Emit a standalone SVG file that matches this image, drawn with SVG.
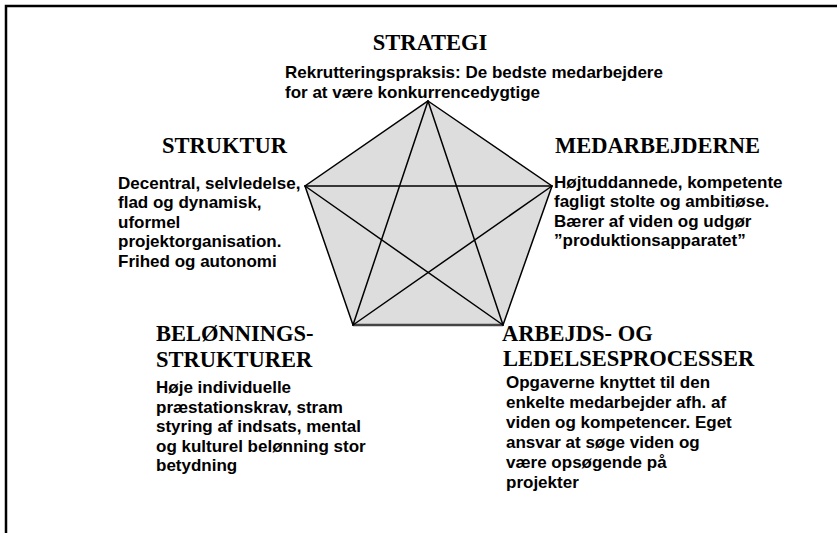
<svg xmlns="http://www.w3.org/2000/svg" width="837" height="533" viewBox="0 0 837 533">
<style>
.h{font-family:"Liberation Serif","Times New Roman",serif;font-weight:bold;font-size:22.5px;fill:#000}
.b{font-family:"Liberation Sans",Arial,sans-serif;font-weight:bold;font-size:17px;fill:#000}
.ln{stroke:#000;stroke-width:1.5;fill:none;stroke-linecap:round}
</style>
<rect width="837" height="533" fill="#fff"/>
<path d="M6,540 V6 H845" fill="none" stroke="#000" stroke-width="2.5"/>
<g id="pentagon">
<polygon points="428,101 552,186 503,325 353,325 305,186" fill="#dddddd" stroke="#000" stroke-width="1.5" stroke-linejoin="miter"/>
<line x1="353" y1="325" x2="503" y2="325" stroke="#444" stroke-width="2.5"/>
</g>
<g id="connectors">
<line class="ln" x1="428" y1="101" x2="353" y2="325"/>
<line class="ln" x1="428" y1="101" x2="503" y2="325"/>
<line class="ln" x1="305" y1="186" x2="552" y2="186"/>
<line class="ln" x1="305" y1="186" x2="503" y2="325"/>
<line class="ln" x1="552" y1="186" x2="353" y2="325"/>
</g>
<g id="strategi">
<text class="h" x="430" y="50" text-anchor="middle">STRATEGI</text>
<text class="b" x="285" y="78">Rekrutteringspraksis: De bedste medarbejdere</text>
<text class="b" x="285" y="97.5">for at være konkurrencedygtige</text>
</g>
<g id="struktur">
<text class="h" x="162" y="153">STRUKTUR</text>
<text class="b" x="118" y="188.5">Decentral, selvledelse,</text>
<text class="b" x="118" y="208">flad og dynamisk,</text>
<text class="b" x="118" y="227.5">uformel</text>
<text class="b" x="118" y="247">projektorganisation.</text>
<text class="b" x="118" y="266.5">Frihed og autonomi</text>
</g>
<g id="medarbejderne">
<text class="h" x="555" y="153">MEDARBEJDERNE</text>
<text class="b" x="554" y="187.5">Højtuddannede, kompetente</text>
<text class="b" x="554" y="207">fagligt stolte og ambitiøse.</text>
<text class="b" x="554" y="226.5">Bærer af viden og udgør</text>
<text class="b" x="554" y="246">”produktionsapparatet”</text>
</g>
<g id="beloenning">
<text class="h" x="156" y="340.5">BELØNNINGS-</text>
<text class="h" x="156" y="367">STRUKTURER</text>
<text class="b" x="156" y="393">Høje individuelle</text>
<text class="b" x="156" y="412.5">præstationskrav, stram</text>
<text class="b" x="156" y="432">styring af indsats, mental</text>
<text class="b" x="156" y="451.5">og kulturel belønning stor</text>
<text class="b" x="156" y="471">betydning</text>
</g>
<g id="arbejds">
<text class="h" x="502" y="340.5">ARBEJDS- OG</text>
<text class="h" x="503" y="365.5">LEDELSESPROCESSER</text>
<text class="b" x="506" y="388">Opgaverne knyttet til den</text>
<text class="b" x="506" y="408">enkelte medarbejder afh. af</text>
<text class="b" x="506" y="428">viden og kompetencer. Eget</text>
<text class="b" x="506" y="448">ansvar at søge viden og</text>
<text class="b" x="506" y="468">være opsøgende på</text>
<text class="b" x="506" y="488">projekter</text>
</g>
</svg>
